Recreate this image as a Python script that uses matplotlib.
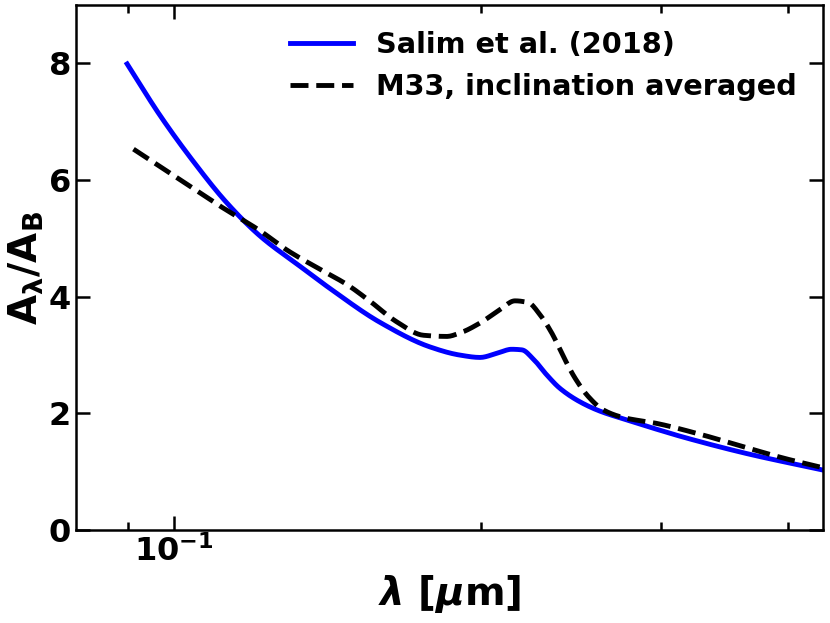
import matplotlib
matplotlib.use("Agg")
import matplotlib.pyplot as plt
from matplotlib.ticker import NullFormatter
import numpy as np

plt.rcParams['font.family'] = ['DejaVu Sans']
plt.rcParams['font.weight'] = 'bold'
plt.rcParams['mathtext.fontset'] = 'custom'
plt.rcParams['mathtext.rm'] = 'DejaVu Sans:bold'
plt.rcParams['mathtext.it'] = 'DejaVu Sans:bold:italic'
plt.rcParams['mathtext.bf'] = 'DejaVu Sans:bold'

# Salim et al. (2018)
salim_wl = [0.0899, 0.0969, 0.1045, 0.1126, 0.1214, 0.1329, 0.1422, 0.1592, 0.1782,
            0.1907, 0.1995, 0.2072, 0.2143, 0.2193, 0.2251, 0.2320, 0.2390, 0.2500,
            0.2616, 0.2779, 0.2973, 0.315, 0.365, 0.433]
salim_A = [7.99, 7.10, 6.31, 5.61, 5.04, 4.52, 4.14, 3.56, 3.14,
           3.00, 2.96, 3.03, 3.10, 3.09, 2.93, 2.66, 2.43, 2.20,
           2.04, 1.89, 1.73, 1.60, 1.31, 1.03]

# M33, inclination averaged
m33_wl = [0.0912, 0.1006, 0.1110, 0.1214, 0.1290, 0.1390, 0.1477, 0.1557, 0.1653,
          0.1756, 0.1851, 0.1907, 0.1995, 0.2087, 0.2159, 0.2225, 0.2285, 0.2346,
          0.2408, 0.2472, 0.2548, 0.2636, 0.2758, 0.2973, 0.327, 0.365, 0.395, 0.433]
m33_A = [6.53, 6.04, 5.55, 5.13, 4.80, 4.47, 4.21, 3.92, 3.57,
         3.34, 3.32, 3.38, 3.55, 3.78, 3.93, 3.90, 3.69, 3.38,
         2.98, 2.61, 2.29, 2.06, 1.93, 1.83, 1.65, 1.41, 1.24, 1.07]

fig = plt.figure(figsize=(8.3, 6.23), dpi=100)
ax = fig.add_axes([0.0916, 0.149, 0.9, 0.843])

def pchip_curve(x, y, n=500):
    xk = np.log10(np.asarray(x, float)); yk = np.asarray(y, float)
    h = np.diff(xk); d = np.diff(yk) / h
    m = np.zeros_like(yk)
    for i in range(1, len(yk) - 1):
        if d[i-1] * d[i] > 0:
            w1 = 2*h[i] + h[i-1]; w2 = h[i] + 2*h[i-1]
            m[i] = (w1 + w2) / (w1/d[i-1] + w2/d[i])
    m[0] = d[0]; m[-1] = d[-1]
    xs = np.linspace(xk[0], xk[-1], n)
    idx = np.clip(np.searchsorted(xk, xs) - 1, 0, len(xk) - 2)
    t = (xs - xk[idx]) / h[idx]
    h00 = 2*t**3 - 3*t**2 + 1; h10 = t**3 - 2*t**2 + t
    h01 = -2*t**3 + 3*t**2; h11 = t**3 - t**2
    ys = h00*yk[idx] + h10*h[idx]*m[idx] + h01*yk[idx+1] + h11*h[idx]*m[idx+1]
    return 10**xs, ys

sx, sy = pchip_curve(salim_wl, salim_A)
mx, my = pchip_curve(m33_wl, m33_A)
ax.plot(sx, sy, color='blue', lw=3.5, label='Salim et al. (2018)')
ax.plot(mx, my, color='black', lw=3.5, ls='--', label='M33, inclination averaged')

ax.set_xscale('log')
ax.set_xlim(0.0801, 0.433)
ax.set_ylim(0, 9)
ax.set_yticks([0, 2, 4, 6, 8])
ax.xaxis.set_minor_formatter(NullFormatter())

ax.tick_params(which='both', direction='in', top=True, right=True, labelsize=23, width=1.8)
ax.tick_params(which='major', length=10)
ax.tick_params(which='minor', length=6)
for s in ax.spines.values():
    s.set_linewidth(1.8)

ax.set_xlabel(r'$\lambda$ [$\mu$m]', fontsize=28, fontweight='bold')
ax.set_ylabel(r'$\mathbf{A_{\lambda}/A_B}$', fontsize=28, fontweight='bold', labelpad=2)

ax.legend(loc='upper right', frameon=False, fontsize=20.7, handlelength=2.2)

fig.savefig('out.png', dpi=100)
